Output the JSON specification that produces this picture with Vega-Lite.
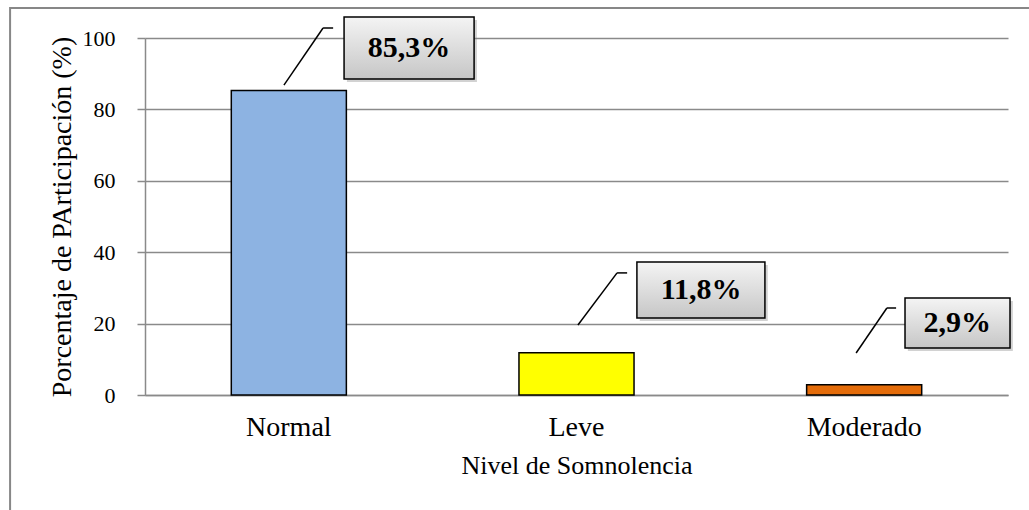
{
  "$schema": "https://vega.github.io/schema/vega-lite/v6.json",
  "width": 863,
  "height": 357,
  "autosize": {"type": "none"},
  "padding": {"left": 145, "top": 38, "right": 21, "bottom": 115},
  "background": "white",
  "config": {
    "view": {"stroke": null},
    "font": "Liberation Serif",
    "text": {"font": "Liberation Serif"}
  },
  "data": {
    "values": [
      {"nivel": "Normal", "pct": 85.3},
      {"nivel": "Leve", "pct": 11.8},
      {"nivel": "Moderado", "pct": 2.9}
    ]
  },
  "resolve": {
    "scale": {"x": "independent", "y": "independent"},
    "axis": {"x": "independent", "y": "independent"}
  },
  "layer": [
    {
      "data": {"values": [{}]},
      "mark": {"type": "rect", "fill": null, "stroke": "#878787", "strokeWidth": 2, "clip": false},
      "encoding": {
        "x": {"datum": -0.469, "type": "quantitative", "scale": {"domain": [0, 3], "nice": false, "zero": false}, "axis": null},
        "x2": {"datum": 3.2},
        "y": {"datum": 108.4, "type": "quantitative", "scale": {"domain": [0, 100], "nice": false}, "axis": null},
        "y2": {"datum": -40}
      }
    },
    {
      "mark": {"type": "bar", "stroke": "black", "strokeWidth": 1.5},
      "encoding": {
        "x": {
          "field": "nivel",
          "type": "nominal",
          "sort": null,
          "scale": {"paddingInner": 0.6, "paddingOuter": 0.3},
          "axis": {
            "title": "Nivel de Somnolencia",
            "titleFont": "Liberation Serif",
            "titleFontSize": 26,
            "titleFontWeight": "normal",
            "titleColor": "black",
            "titlePadding": 11,
            "labelFont": "Liberation Serif",
            "labelFontSize": 28,
            "labelColor": "black",
            "labelAngle": 0,
            "labelPadding": 18,
            "ticks": false,
            "tickSize": 0,
            "domainColor": "#8a8a8a",
            "domainWidth": 1.5
          }
        },
        "y": {
          "field": "pct",
          "type": "quantitative",
          "scale": {"domain": [0, 100], "nice": false},
          "axis": {
            "values": [0, 20, 40, 60, 80, 100],
            "title": "Porcentaje de PArticipación (%)",
            "titleFont": "Liberation Serif",
            "titleFontSize": 28,
            "titleFontWeight": "normal",
            "titleColor": "black",
            "titlePadding": 6,
            "labelFont": "Liberation Serif",
            "labelFontSize": 22,
            "labelColor": "black",
            "labelPadding": 22,
            "grid": true,
            "gridColor": "#8a8a8a",
            "gridWidth": 1.5,
            "domainColor": "#8a8a8a",
            "domainWidth": 1.5,
            "tickColor": "#8a8a8a",
            "tickWidth": 1.5,
            "tickSize": 8
          }
        },
        "color": {
          "field": "nivel",
          "type": "nominal",
          "scale": {"domain": ["Normal", "Leve", "Moderado"], "range": ["#8DB3E2", "#FFFF00", "#E46C0A"]},
          "legend": null
        }
      }
    },
    {
      "transform": [
        {"calculate": "replace(format(datum.pct, '.1f'), '.', ',') + '%'", "as": "etiqueta"}
      ],
      "layer": [
        {
          "transform": [{"filter": "datum.nivel === 'Normal'"}],
          "layer": [
            {
              "mark": {"type": "rule", "color": "black", "strokeWidth": 1.5},
              "encoding": {
                "x": {"datum": 0.483, "type": "quantitative", "scale": {"domain": [0, 3], "nice": false, "zero": false}, "axis": null},
                "y": {"datum": 86.8, "type": "quantitative", "scale": {"domain": [0, 100], "nice": false}, "axis": null},
                "x2": {"datum": 0.619},
                "y2": {"datum": 102.8}
              }
            },
            {
              "mark": {"type": "rule", "color": "black", "strokeWidth": 1.5},
              "encoding": {
                "x": {"datum": 0.619, "type": "quantitative", "scale": {"domain": [0, 3], "nice": false, "zero": false}, "axis": null},
                "y": {"datum": 102.8, "type": "quantitative", "scale": {"domain": [0, 100], "nice": false}, "axis": null},
                "x2": {"datum": 0.654},
                "y2": {"datum": 102.8}
              }
            },
            {
              "mark": {"type": "rect", "fill": "#7f7f7f", "opacity": 0.35},
              "encoding": {
                "x": {"datum": 0.702, "type": "quantitative", "scale": {"domain": [0, 3], "nice": false, "zero": false}, "axis": null},
                "x2": {"datum": 1.154},
                "y": {"datum": 105.06, "type": "quantitative", "scale": {"domain": [0, 100], "nice": false}, "axis": null},
                "y2": {"datum": 87.66}
              }
            },
            {
              "mark": {
                "type": "rect",
                "stroke": "black",
                "strokeWidth": 1.5,
                "fill": {"gradient": "linear", "x1": 0, "y1": 0, "x2": 0, "y2": 1, "stops": [{"offset": 0, "color": "#F4F4F4"}, {"offset": 1, "color": "#C6C6C6"}]}
              },
              "encoding": {
                "x": {"datum": 0.692, "type": "quantitative", "scale": {"domain": [0, 3], "nice": false, "zero": false}, "axis": null},
                "x2": {"datum": 1.144},
                "y": {"datum": 105.9, "type": "quantitative", "scale": {"domain": [0, 100], "nice": false}, "axis": null},
                "y2": {"datum": 88.5}
              }
            },
            {
              "mark": {"type": "text", "font": "Liberation Serif", "fontSize": 30, "fontWeight": "bold", "color": "black", "align": "center", "baseline": "middle"},
              "encoding": {
                "x": {"datum": 0.918, "type": "quantitative", "scale": {"domain": [0, 3], "nice": false, "zero": false}, "axis": null},
                "y": {"datum": 97.2, "type": "quantitative", "scale": {"domain": [0, 100], "nice": false}, "axis": null},
                "text": {"field": "etiqueta"}
              }
            }
          ]
        },
        {
          "transform": [{"filter": "datum.nivel === 'Leve'"}],
          "layer": [
            {
              "mark": {"type": "rule", "color": "black", "strokeWidth": 1.5},
              "encoding": {
                "x": {"datum": 1.505, "type": "quantitative", "scale": {"domain": [0, 3], "nice": false, "zero": false}, "axis": null},
                "y": {"datum": 19.6, "type": "quantitative", "scale": {"domain": [0, 100], "nice": false}, "axis": null},
                "x2": {"datum": 1.641},
                "y2": {"datum": 34.2}
              }
            },
            {
              "mark": {"type": "rule", "color": "black", "strokeWidth": 1.5},
              "encoding": {
                "x": {"datum": 1.641, "type": "quantitative", "scale": {"domain": [0, 3], "nice": false, "zero": false}, "axis": null},
                "y": {"datum": 34.2, "type": "quantitative", "scale": {"domain": [0, 100], "nice": false}, "axis": null},
                "x2": {"datum": 1.676},
                "y2": {"datum": 34.2}
              }
            },
            {
              "mark": {"type": "rect", "fill": "#7f7f7f", "opacity": 0.35},
              "encoding": {
                "x": {"datum": 1.72, "type": "quantitative", "scale": {"domain": [0, 3], "nice": false, "zero": false}, "axis": null},
                "x2": {"datum": 2.165},
                "y": {"datum": 36.41, "type": "quantitative", "scale": {"domain": [0, 100], "nice": false}, "axis": null},
                "y2": {"datum": 20.73}
              }
            },
            {
              "mark": {
                "type": "rect",
                "stroke": "black",
                "strokeWidth": 1.5,
                "fill": {"gradient": "linear", "x1": 0, "y1": 0, "x2": 0, "y2": 1, "stops": [{"offset": 0, "color": "#F4F4F4"}, {"offset": 1, "color": "#C6C6C6"}]}
              },
              "encoding": {
                "x": {"datum": 1.71, "type": "quantitative", "scale": {"domain": [0, 3], "nice": false, "zero": false}, "axis": null},
                "x2": {"datum": 2.155},
                "y": {"datum": 37.25, "type": "quantitative", "scale": {"domain": [0, 100], "nice": false}, "axis": null},
                "y2": {"datum": 21.57}
              }
            },
            {
              "mark": {"type": "text", "font": "Liberation Serif", "fontSize": 30, "fontWeight": "bold", "color": "black", "align": "center", "baseline": "middle"},
              "encoding": {
                "x": {"datum": 1.933, "type": "quantitative", "scale": {"domain": [0, 3], "nice": false, "zero": false}, "axis": null},
                "y": {"datum": 29.4, "type": "quantitative", "scale": {"domain": [0, 100], "nice": false}, "axis": null},
                "text": {"field": "etiqueta"}
              }
            }
          ]
        },
        {
          "transform": [{"filter": "datum.nivel === 'Moderado'"}],
          "layer": [
            {
              "mark": {"type": "rule", "color": "black", "strokeWidth": 1.5},
              "encoding": {
                "x": {"datum": 2.472, "type": "quantitative", "scale": {"domain": [0, 3], "nice": false, "zero": false}, "axis": null},
                "y": {"datum": 11.76, "type": "quantitative", "scale": {"domain": [0, 100], "nice": false}, "axis": null},
                "x2": {"datum": 2.579},
                "y2": {"datum": 24.37}
              }
            },
            {
              "mark": {"type": "rule", "color": "black", "strokeWidth": 1.5},
              "encoding": {
                "x": {"datum": 2.579, "type": "quantitative", "scale": {"domain": [0, 3], "nice": false, "zero": false}, "axis": null},
                "y": {"datum": 24.37, "type": "quantitative", "scale": {"domain": [0, 100], "nice": false}, "axis": null},
                "x2": {"datum": 2.611},
                "y2": {"datum": 24.37}
              }
            },
            {
              "mark": {"type": "rect", "fill": "#7f7f7f", "opacity": 0.35},
              "encoding": {
                "x": {"datum": 2.652, "type": "quantitative", "scale": {"domain": [0, 3], "nice": false, "zero": false}, "axis": null},
                "x2": {"datum": 3.017},
                "y": {"datum": 26.33, "type": "quantitative", "scale": {"domain": [0, 100], "nice": false}, "axis": null},
                "y2": {"datum": 12.33}
              }
            },
            {
              "mark": {
                "type": "rect",
                "stroke": "black",
                "strokeWidth": 1.5,
                "fill": {"gradient": "linear", "x1": 0, "y1": 0, "x2": 0, "y2": 1, "stops": [{"offset": 0, "color": "#F4F4F4"}, {"offset": 1, "color": "#C6C6C6"}]}
              },
              "encoding": {
                "x": {"datum": 2.642, "type": "quantitative", "scale": {"domain": [0, 3], "nice": false, "zero": false}, "axis": null},
                "x2": {"datum": 3.007},
                "y": {"datum": 27.17, "type": "quantitative", "scale": {"domain": [0, 100], "nice": false}, "axis": null},
                "y2": {"datum": 13.17}
              }
            },
            {
              "mark": {"type": "text", "font": "Liberation Serif", "fontSize": 30, "fontWeight": "bold", "color": "black", "align": "center", "baseline": "middle"},
              "encoding": {
                "x": {"datum": 2.824, "type": "quantitative", "scale": {"domain": [0, 3], "nice": false, "zero": false}, "axis": null},
                "y": {"datum": 20.2, "type": "quantitative", "scale": {"domain": [0, 100], "nice": false}, "axis": null},
                "text": {"field": "etiqueta"}
              }
            }
          ]
        }
      ]
    }
  ]
}
